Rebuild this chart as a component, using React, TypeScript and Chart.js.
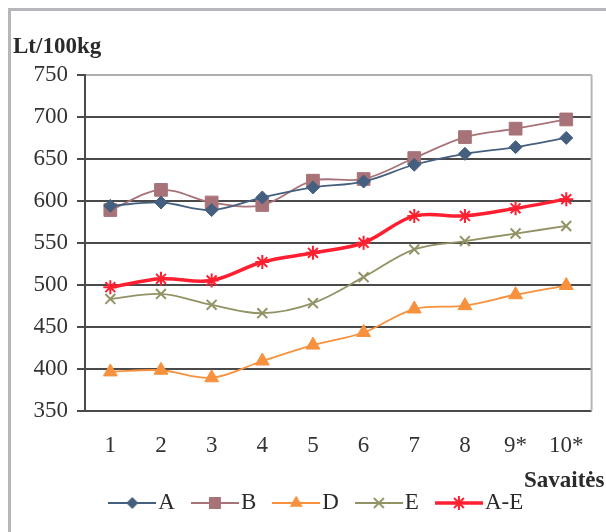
import React, { useEffect, useRef } from "react";
import { Chart, registerables } from "chart.js";

Chart.register(...registerables);

const categories = ["1", "2", "3", "4", "5", "6", "7", "8", "9*", "10*"];
const seriesA = [594, 598, 589, 604, 616, 623, 643, 656, 664, 675];
const seriesB = [589, 613, 598, 595, 624, 626, 651, 676, 686, 697];
const seriesD = [396, 398, 389, 409, 428, 443, 471, 475, 488, 499];
const seriesE = [483, 489, 476, 466, 478, 509, 542, 552, 561, 570];
const seriesAE = [497, 507, 505, 527, 538, 550, 582, 582, 591, 602];
const yTicks = [350, 400, 450, 500, 550, 600, 650, 700, 750];

const FONT = "'Liberation Serif', 'Times New Roman', serif";

type Spec = { label: string; data: number[]; color: string; style: string; radius: number; width: number };

const specs: Spec[] = [
  { label: "A", data: seriesA, color: "#45607f", style: "rectRot", radius: 6.5, width: 1.8 },
  { label: "B", data: seriesB, color: "#a87378", style: "rect", radius: 9, width: 1.8 },
  { label: "D", data: seriesD, color: "#f7913d", style: "triangle", radius: 8, width: 1.8 },
  { label: "E", data: seriesE, color: "#929365", style: "crossRot", radius: 7, width: 1.8 },
  { label: "A-E", data: seriesAE, color: "#ff1f30", style: "star", radius: 7, width: 3.5 },
];

function legendImage(s: Spec): HTMLCanvasElement {
  const c = document.createElement("canvas");
  c.width = 48;
  c.height = 20;
  const ctx = c.getContext("2d")!;
  const cy = 10;
  const cx = 24;
  ctx.strokeStyle = s.color;
  ctx.fillStyle = s.color;
  ctx.lineWidth = s.label === "A-E" ? 3.5 : 1.8;
  ctx.beginPath();
  ctx.moveTo(0, cy);
  ctx.lineTo(48, cy);
  ctx.stroke();
  ctx.lineWidth = 1.8;
  ctx.beginPath();
  if (s.style === "rectRot") {
    const r = 6;
    ctx.moveTo(cx, cy - r);
    ctx.lineTo(cx + r, cy);
    ctx.lineTo(cx, cy + r);
    ctx.lineTo(cx - r, cy);
    ctx.closePath();
    ctx.fill();
  } else if (s.style === "rect") {
    ctx.rect(cx - 6, cy - 6, 12, 12);
    ctx.fill();
  } else if (s.style === "triangle") {
    const r = 7.5;
    ctx.moveTo(cx, cy - r);
    ctx.lineTo(cx + r * 0.866, cy + r * 0.5);
    ctx.lineTo(cx - r * 0.866, cy + r * 0.5);
    ctx.closePath();
    ctx.fill();
  } else if (s.style === "crossRot") {
    const r = 5;
    ctx.moveTo(cx - r, cy - r);
    ctx.lineTo(cx + r, cy + r);
    ctx.moveTo(cx + r, cy - r);
    ctx.lineTo(cx - r, cy + r);
    ctx.stroke();
  } else if (s.style === "star") {
    const r = 7;
    for (let i = 0; i < 4; i++) {
      const a = (i * Math.PI) / 4;
      ctx.moveTo(cx - Math.cos(a) * r, cy - Math.sin(a) * r);
      ctx.lineTo(cx + Math.cos(a) * r, cy + Math.sin(a) * r);
    }
    ctx.lineWidth = 2;
    ctx.stroke();
  }
  return c;
}

const decorPlugin = {
  id: "decor",
  afterLayout(chart: any) {
    if (chart.legend) {
      chart.legend.left += 20;
      chart.legend.right += 20;
    }
  },
  beforeDraw(chart: any) {
    const { ctx, width, height } = chart;
    ctx.save();
    ctx.fillStyle = "#ffffff";
    ctx.fillRect(0, 0, width, height);
    ctx.fillStyle = "#b7b7bb";
    ctx.fillRect(8, 8, 3, height - 8);
    ctx.fillRect(8, 8, width - 8, 3);
    ctx.restore();
  },
  beforeDatasetsDraw(chart: any) {
    const { ctx, chartArea } = chart;
    ctx.save();
    ctx.strokeStyle = "#b5b5b5";
    ctx.lineWidth = 2;
    ctx.beginPath();
    ctx.moveTo(chartArea.right, chartArea.top);
    ctx.lineTo(chartArea.right, chartArea.bottom);
    ctx.stroke();
    ctx.restore();
  },
  afterDraw(chart: any) {
    const { ctx } = chart;
    ctx.save();
    ctx.fillStyle = "#2a2a2a";
    ctx.font = `bold 23px ${FONT}`;
    ctx.textAlign = "left";
    ctx.textBaseline = "middle";
    ctx.fillText("Lt/100kg", 13, 47);
    ctx.fillText("Savaitės", 524, 481);
    ctx.restore();
  },
};

export default function App() {
  const ref = useRef<HTMLCanvasElement | null>(null);
  useEffect(() => {
    if (!ref.current) return;
    const images = specs.map(legendImage);
    const chart = new Chart(ref.current, {
      type: "line",
      data: {
        labels: categories,
        datasets: specs.map((s) => ({
          label: s.label,
          data: s.data,
          borderColor: s.color,
          backgroundColor: s.color,
          borderWidth: s.width,
          pointStyle: s.style as any,
          pointRadius: s.radius,
          pointBorderColor: s.color,
          pointBackgroundColor: s.color,
          pointBorderWidth: s.style === "star" || s.style === "crossRot" ? 2 : 1,
          tension: 0.35,
          fill: false,
        })),
      },
      options: {
        responsive: false,
        animation: false,
        layout: { padding: { left: 0, right: 5, top: 75, bottom: 7.5 } },
        plugins: {
          title: { display: false },
          tooltip: { enabled: false },
          legend: {
            position: "bottom",
            labels: {
              usePointStyle: true,
              pointStyleWidth: 29,
              padding: 25.5,
              color: "#2a2a2a",
              font: { family: FONT, size: 23 },
              generateLabels: () =>
                specs.map((s, i) => ({
                  text: s.label,
                  pointStyle: images[i] as any,
                  fillStyle: s.color,
                  strokeStyle: s.color,
                  lineWidth: 0,
                  hidden: false,
                  datasetIndex: i,
                  fontColor: "#2a2a2a",
                })),
            },
          },
        },
        scales: {
          x: {
            offset: true,
            grid: { display: false, drawTicks: false },
            border: { display: false },
            ticks: { color: "#333", font: { family: FONT, size: 23 }, padding: 22, maxRotation: 0 },
            afterFit: (scale: any) => {
              scale.height = 55.5;
            },
          },
          y: {
            min: 350,
            max: 750,
            afterBuildTicks: (scale: any) => {
              scale.ticks = yTicks.map((v) => ({ value: v }));
            },
            grid: {
              color: (c: any) => (c.tick && c.tick.value === 750 ? "#b0b0b0" : "#4a4a4a"),
              lineWidth: 2,
              tickLength: 8,
              tickColor: "#4a4a4a",
            },
            border: { display: true, color: "#4a4a4a", width: 2 },
            ticks: { color: "#333", font: { family: FONT, size: 23 }, padding: 9 },
            afterFit: (scale: any) => {
              scale.width = 85;
            },
          },
        },
      },
      plugins: [decorPlugin],
    });
    return () => chart.destroy();
  }, []);
  return (
    <div style={{ position: "fixed", left: 0, top: 0, width: 606, height: 532, overflow: "hidden", background: "#fff" }}>
      <canvas ref={ref} width={606} height={532} style={{ display: "block", width: 606, height: 532 }} />
    </div>
  );
}
